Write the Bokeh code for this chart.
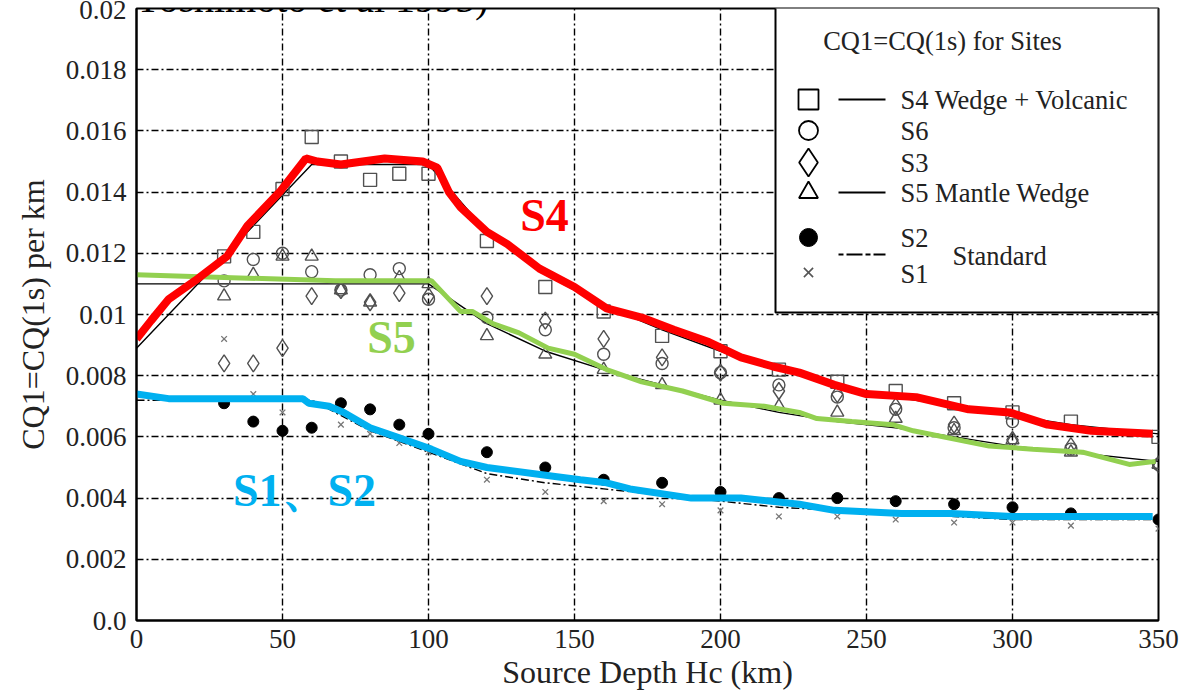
from bokeh.plotting import figure
from bokeh.models import Range1d, FixedTicker, Label
from bokeh.embed import file_html
from bokeh.resources import INLINE

# ---------------- data ----------------
depth = [30, 40, 50, 60, 70, 80, 90, 100, 120, 140, 160, 180, 200, 220, 240, 260, 280, 300, 320, 350]
s4_square = [0.0119, 0.0127, 0.0141, 0.0158, 0.0150, 0.0144, 0.0146, 0.0146, 0.0124, 0.0109,
             0.0101, 0.0093, 0.0088, 0.0082, 0.0078, 0.0075, 0.0071, 0.0068, 0.0065, 0.0060]
s6_circle = [0.0111, 0.0118, 0.0120, 0.0114, 0.0108, 0.0113, 0.0115, 0.0105, 0.0099, 0.0095,
             0.0087, 0.0084, 0.0081, 0.0077, 0.0073, 0.0069, 0.0063, 0.0065, 0.0056, 0.0051]
s3_diamond = [0.0084, 0.0084, 0.0089, 0.0106, 0.0108, 0.0104, 0.0107, 0.0106, 0.0106, 0.0098,
              0.0092, 0.0086, 0.0081, 0.0075, 0.0074, 0.0070, 0.0064, 0.0059, 0.0057, 0.0051]
s5_triangle = [0.0106, 0.0113, 0.0119, 0.0119, 0.0108, 0.0104, 0.0112, 0.0110, 0.0093, 0.0087,
               0.0082, 0.0077, 0.0072, 0.0070, 0.0068, 0.0066, 0.0062, 0.0059, 0.0055, 0.0051]
s2_dot = [0.0071, 0.0065, 0.0062, 0.0063, 0.0071, 0.0069, 0.0064, 0.0061, 0.0055, 0.0050,
          0.0046, 0.0045, 0.0042, 0.0040, 0.0040, 0.0039, 0.0038, 0.0037, 0.0035, 0.0033]
s1_cross = [0.0092, 0.0074, 0.0068, 0.0071, 0.0064, 0.0061, 0.0058, 0.0055, 0.0046, 0.0042,
            0.0039, 0.0038, 0.0036, 0.0034, 0.0034, 0.0033, 0.0032, 0.0032, 0.0031, 0.0030]

# thin black model curves
s4_model_d = [0, 60, 100, 120, 140, 160, 180, 200, 220, 240, 260, 280, 300, 320, 350]
s4_model_v = [0.0089, 0.0149, 0.0149, 0.0127, 0.0113, 0.0103, 0.0095, 0.0088, 0.0082, 0.0077,
              0.0073, 0.0070, 0.0067, 0.0064, 0.0061]
s5_model_d = [0, 100, 120, 140, 160, 180, 200, 220, 240, 260, 280, 300, 320, 350]
s5_model_v = [0.0110, 0.0110, 0.0097, 0.0088, 0.0082, 0.0077, 0.0072, 0.0068, 0.0065, 0.0063,
              0.0060, 0.0057, 0.0055, 0.0052]
std_model_d = [0, 60, 80, 100, 120, 140, 160, 180, 200, 220, 240, 260, 280, 300, 320, 350]
std_model_v = [0.0072, 0.0072, 0.0062, 0.0055, 0.0048, 0.0045, 0.0043, 0.0041, 0.0039, 0.0037,
               0.0036, 0.0035, 0.0034, 0.0033, 0.0033, 0.0033]

# hand-drawn coloured overlays
red_d = [0, 5, 11, 20, 31, 38, 49, 58, 62, 70, 85, 98, 103, 107, 111, 120, 127, 138, 150, 161,
         173, 184, 196, 207, 218, 227, 239, 250, 267, 285, 299, 312, 327, 348]
red_v = [0.0092, 0.0098, 0.0105, 0.0111, 0.0119, 0.0129, 0.0140, 0.0151, 0.0150, 0.0149, 0.0151,
         0.0150, 0.0148, 0.0140, 0.0135, 0.0127, 0.0123, 0.0115, 0.0109, 0.0102, 0.0099, 0.0095,
         0.0091, 0.0086, 0.0083, 0.0081, 0.0077, 0.0074, 0.0073, 0.0069, 0.0068, 0.0064, 0.0062, 0.0061]
green_d = [0, 68, 98, 101, 106, 111, 115, 122, 131, 141, 150, 161, 173, 187, 201, 215, 227, 233,
           245, 259, 266, 292, 307, 324, 340, 349]
green_v = [0.0113, 0.0111, 0.0111, 0.0111, 0.0106, 0.0101, 0.0101, 0.0097, 0.0094, 0.0089, 0.0087,
           0.0082, 0.0078, 0.0075, 0.0071, 0.0070, 0.0068, 0.0066, 0.0065, 0.0064, 0.0062, 0.0057,
           0.0056, 0.0055, 0.0051, 0.0052]
blue_d = [0, 11, 57, 59, 66, 71, 80, 89, 101, 111, 120, 144, 152, 161, 169, 190, 207, 227, 239,
          262, 279, 300, 348]
blue_v = [0.0074, 0.00725, 0.00725, 0.0071, 0.0070, 0.0068, 0.0063, 0.0060, 0.0056, 0.0052, 0.0050,
          0.0047, 0.0046, 0.0045, 0.0043, 0.0040, 0.0040, 0.0038, 0.0036, 0.0035, 0.0035, 0.0034, 0.0034]

x_ticks = [0, 50, 100, 150, 200, 250, 300, 350]
y_ticks = [0.0, 0.002, 0.004, 0.006, 0.008, 0.01, 0.012, 0.014, 0.016, 0.018, 0.02]
y_tick_labels = ["0.0", "0.002", "0.004", "0.006", "0.008", "0.01", "0.012", "0.014", "0.016", "0.018", "0.02"]

# ---------------- figure ----------------
W, H = 1191, 695
L, R, T, B = 136, 33, 8, 75
X0, X1, Y0, Y1 = 0, 350, 0, 0.02
SERIF = "Liberation Serif"
INK = "#222222"
MK = "#505050"

p = figure(width=W, height=H, x_range=Range1d(X0, X1), y_range=Range1d(Y0, Y1),
           output_backend="svg", toolbar_location=None,
           min_border_left=L, min_border_right=R, min_border_top=T, min_border_bottom=B)
p.background_fill_color = "white"
p.border_fill_color = "white"
p.outline_line_color = "black"
p.outline_line_width = 2

fw, fh = W - L - R, H - T - B


def dx(px):
    return X0 + (px - L) / fw * (X1 - X0)


def dy(py):
    return Y0 + (H - B - py) / fh * (Y1 - Y0)


p.xaxis.ticker = FixedTicker(ticks=x_ticks)
p.yaxis.ticker = FixedTicker(ticks=y_ticks)
p.yaxis.major_label_overrides = dict(zip(y_ticks, y_tick_labels))
for ax in (p.xaxis, p.yaxis):
    ax.axis_line_color = "black"
    ax.axis_line_width = 2
    ax.major_tick_in = 0
    ax.major_tick_out = 0
    ax.minor_tick_line_color = None
    ax.major_label_text_font = SERIF
    ax.major_label_text_font_size = "27px"
    ax.major_label_text_color = INK
    ax.axis_label_text_font = SERIF
    ax.axis_label_text_font_style = "normal"
    ax.axis_label_text_font_size = "32px"
    ax.axis_label_text_color = INK
p.xaxis.axis_label = "Source Depth Hc (km)"
p.yaxis.axis_label = "CQ1=CQ(1s) per km"
p.xaxis.major_label_standoff = 9
p.xaxis.axis_label_standoff = 3
p.yaxis.major_label_standoff = 10
p.yaxis.axis_label_standoff = 12

p.xgrid.ticker = FixedTicker(ticks=x_ticks[1:-1])
p.ygrid.ticker = FixedTicker(ticks=y_ticks[1:-1])
for g in (p.xgrid, p.ygrid):
    g.grid_line_color = "black"
    g.grid_line_width = 1.4
    g.grid_line_dash = "7 3 2 3"

# model curves (thin black)
p.line(s4_model_d, s4_model_v, line_color="black", line_width=1.4)
p.line(s5_model_d, s5_model_v, line_color="black", line_width=1.4)
p.line(std_model_d, std_model_v, line_color="black", line_width=1.4, line_dash="8 3 2 3")

# site markers
p.scatter(depth, s4_square, marker="square", size=13, fill_color=None, line_color=MK, line_width=1.4)
p.scatter(depth, s6_circle, marker="circle", size=12, fill_color=None, line_color=MK, line_width=1.4)
p.scatter(depth, s3_diamond, marker="diamond", size=17, fill_color=None, line_color=MK, line_width=1.4)
p.scatter(depth, s5_triangle, marker="triangle", size=13, fill_color=None, line_color=MK, line_width=1.4)
p.scatter(depth, s2_dot, marker="circle", size=11, fill_color="black", line_color="black")
p.scatter(depth, s1_cross, marker="x", size=8, line_color="#777777", line_width=1.3)

# coloured overlays
p.line(green_d, green_v, line_color="#92d050", line_width=5)
p.line(blue_d, blue_v, line_color="#00b0f0", line_width=7)
p.line(red_d, red_v, line_color="#ff0000", line_width=8)

# coloured annotations
for txt, cx, cy, col in [("S4", 544, 215, "#ff0000"), ("S5", 391, 337, "#92d050"),
                         ("S1、S2", 304, 490, "#00b0f0")]:
    p.add_layout(Label(x=dx(cx), y=dy(cy), text=txt, text_font=SERIF, text_font_size="46px",
                       text_font_style="bold", text_color=col, text_align="center",
                       text_baseline="middle"))

# cut-off caption at the very top
p.add_layout(Label(x=dx(-27), y=dy(-2), text="3.6", text_font=SERIF, text_font_size="40px",
                   text_color="black", text_align="left", text_baseline="alphabetic"))
p.add_layout(Label(x=dx(133), y=dy(-2), text="Yoshimoto et al 1995)", text_font=SERIF,
                   text_font_size="40px", text_color="black", text_align="left",
                   text_baseline="alphabetic"))

# ---------------- legend box ----------------
p.quad(left=[dx(775)], right=[dx(1158)], top=[dy(6)], bottom=[dy(312)],
       fill_color="white", line_color="black", line_width=2)
p.add_layout(Label(x=dx(942), y=dy(40), text="CQ1=CQ(1s) for Sites", text_font=SERIF,
                   text_font_size="26.5px", text_color=INK, text_align="center", text_baseline="middle"))
LEG_FS = "26.5px"
mx = dx(808)
rows = [("square", 99, "S4 Wedge + Volcanic", True, 20),
        ("circle", 130, "S6", False, 19),
        ("diamond", 162, "S3", False, 28),
        ("triangle", 192, "S5 Mantle Wedge", True, 19)]
for mk, py, lab, has_line, sz in rows:
    p.scatter([mx], [dy(py)], marker=mk, size=sz, fill_color=None, line_color="black", line_width=1.8)
    if has_line:
        p.line([dx(838), dx(885)], [dy(py), dy(py)], line_color="black", line_width=1.8)
    p.add_layout(Label(x=dx(900), y=dy(py), text=lab, text_font=SERIF, text_font_size=LEG_FS,
                       text_color=INK, text_baseline="middle"))
p.scatter([mx], [dy(237)], marker="circle", size=18, fill_color="black", line_color="black")
p.scatter([mx], [dy(272)], marker="x", size=13, line_color="#555555", line_width=1.6)
p.line([dx(838), dx(885)], [dy(254), dy(254)], line_color="black", line_width=1.8, line_dash="5 3 16 3")
p.add_layout(Label(x=dx(900), y=dy(237), text="S2", text_font=SERIF, text_font_size=LEG_FS,
                   text_color=INK, text_baseline="middle"))
p.add_layout(Label(x=dx(900), y=dy(273), text="S1", text_font=SERIF, text_font_size=LEG_FS,
                   text_color=INK, text_baseline="middle"))
p.add_layout(Label(x=dx(952), y=dy(255), text="Standard", text_font=SERIF, text_font_size=LEG_FS,
                   text_color=INK, text_baseline="middle"))

with open("out.html", "w") as f:
    f.write(file_html(p, INLINE))
